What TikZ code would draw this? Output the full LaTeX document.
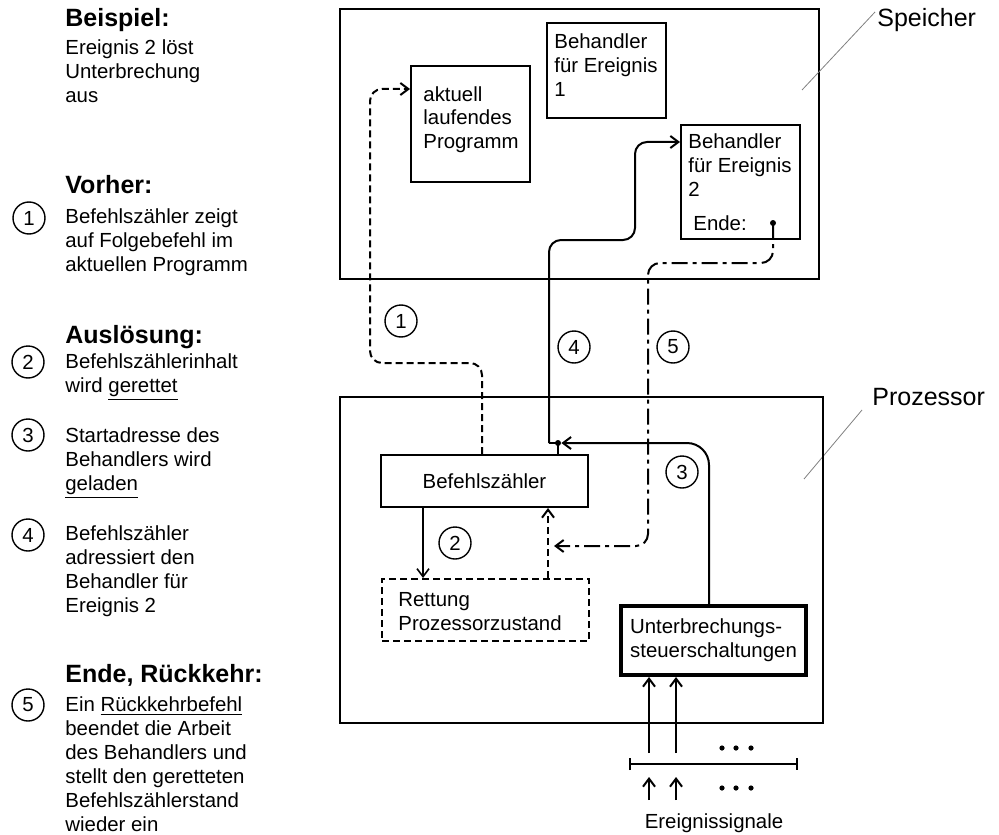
\documentclass[tikz,border=0pt]{standalone}
\usepackage{fontspec}
\setmainfont{Liberation Sans}
\usetikzlibrary{arrows.meta}
\newcommand{\fsn}{\fontsize{10.2pt}{12pt}\selectfont}
\newcommand{\fsh}{\fontsize{12.5pt}{15pt}\selectfont\bfseries}
\newcommand{\fsl}{\fontsize{12.5pt}{15pt}\selectfont}
\begin{document}
\begin{tikzpicture}[x=0.5pt,y=-0.5pt,
  every node/.style={inner sep=0pt, font=\fsn},
  ln/.style={line width=1pt},
  box/.style={draw, line width=1pt},
  tx/.style={anchor=base west, align=left},
  hd/.style={anchor=base west, font=\fsh},
  num/.style={draw, circle, line width=0.7pt, minimum size=16pt, inner sep=0pt},
  arr/.style={-{Straight Barb[length=4pt,width=6pt]}},
  dsh/.style={dash pattern=on 3.5pt off 2pt},
  dshdot/.style={dash pattern=on 8pt off 2.5pt on 2pt off 2.5pt},
  dot/.style={circle, fill, inner sep=0pt, minimum size=3pt},
  leader/.style={draw=gray, line width=0.4pt}]
\useasboundingbox (0,0) rectangle (999,834);

% ---------- left column (multi-line nodes anchored at last baseline) ----------
\node[hd] (h1) at (65,27) {Beispiel:};
\node[tx] (t1) at (65,103) {Ereignis 2 löst\\Unterbrechung\\aus};
\node[hd] (h2) at (65,193) {Vorher:};
\node[num] (n1) at (29,218) {1};
\node[tx] (t2) at (65,271) {Befehlszähler zeigt\\auf Folgebefehl im\\aktuellen Programm};
\node[hd] (h3) at (65,343) {Auslösung:};
\node[num] (n2) at (28,362) {2};
\node[tx] (t3) at (65,392) {Befehlszählerinhalt\\wird \underline{gerettet}};
\node[num] (n3) at (28,435) {3};
\node[tx] (t4) at (65,490) {Startadresse des\\Behandlers wird\\\underline{geladen}};
\node[num] (n4) at (28,535) {4};
\node[tx] (t5) at (65,612) {Befehlszähler\\adressiert den\\Behandler für\\Ereignis 2};
\node[hd] (h4) at (65,682) {Ende, Rückkehr:};
\node[num] (n5) at (28,705) {5};
\node[tx] (t6) at (65,831) {Ein \underline{Rückkehrbefehl}\\beendet die Arbeit\\des Behandlers und\\stellt den geretteten\\Befehlszählerstand\\wieder ein};

% ---------- memory ----------
\node[box, minimum width=239.5pt, minimum height=135pt] (spe) at (579.5,144) {};
\node[box, minimum width=59.5pt, minimum height=58pt] (akt) at (470.5,124) {};
\node[tx] (aktt) at (423,149) {aktuell\\laufendes\\Programm};
\node[box, minimum width=59.5pt, minimum height=47.5pt] (b1) at (606.5,70.5) {};
\node[tx] (b1t) at (554,97) {Behandler\\für Ereignis\\1};
\node[box, minimum width=59.5pt, minimum height=57pt] (b2) at (740.5,182) {};
\node[tx] (b2t) at (688,197) {Behandler\\für Ereignis\\2};
\node[tx] (ende) at (693,230) {Ende:};
\node[dot] (e5) at (773,223) {};

% labels
\node[anchor=base west, font=\fsl] (lspe) at (877,27) {Speicher};
\coordinate (ls1) at (802,90);
\coordinate (ls2) at (875,12);
\draw[leader] (ls1) -- (ls2);
\node[anchor=base west, font=\fsl] (lpro) at (872,405) {Prozessor};
\coordinate (lp1) at (804,479);
\coordinate (lp2) at (862,410);
\draw[leader] (lp1) -- (lp2);

% ---------- processor ----------
\node[box, minimum width=241.5pt, minimum height=163pt] (pro) at (581.5,560) {};
\node[box, minimum width=103.5pt, minimum height=26pt] (bz) at (484.5,481) {Befehlszähler};
\node[draw, line width=1pt, dsh, minimum width=103.5pt, minimum height=31pt] (rett) at (485.5,610) {};
\node[tx] (rettt) at (398,630) {Rettung\\Prozessorzustand};
\node[draw, line width=2pt, minimum width=92.5pt, minimum height=34.5pt, align=left] (us) at (713.5,640.5) {Unterbrechungs-\\steuerschaltungen};
\node[dot] (j) at (558,443) {};

% numbered circles in diagram
\node[num] (m1) at (401,321) {1};
\node[num] (m2) at (455,543) {2};
\node[num] (m3) at (682,472) {3};
\node[num] (m4) at (574,347) {4};
\node[num] (m5) at (673,347) {5};

% connector 1 (dashed)
\draw[ln, dsh, arr, rounded corners=6pt] (482,0 |- bz.north) -- (482,363) -- (370,363) -- (370,89) -- (akt.west |- 0,89);

% connector 4
\coordinate (c4) at (549,443);
\draw[ln] (j.center) -- (c4);
\draw[ln, arr, rounded corners=6pt] (c4) -- (549,240) -- (635,240) -- (635,142) -- (b2.west |- 0,142);
\draw[ln] (j.center) -- (j |- bz.north);

% connector 3
\draw[ln, arr, rounded corners=11pt] (709,0 |- us.north) -- (709,443) -- (j);

% connector 5 (dash-dot)
\coordinate (r5) at (554,546);
\draw[ln, dshdot, arr, rounded corners=6pt] (e5.center) -- (773,263) -- (648,263) -- (648,546) -- (r5);

% restore (dashed up) and save (2)
\draw[ln, dsh, arr] (548,0 |- rett.north) -- (548,0 |- bz.south);
\draw[line width=0.8pt, arr] (423,0 |- bz.south) -- (423,0 |- rett.north);

% event signals
\coordinate (in1) at (649,753);
\coordinate (in2) at (676,753);
\draw[ln, arr] (in1) -- (in1 |- us.south);
\draw[ln, arr] (in2) -- (in2 |- us.south);
\coordinate (busL) at (629,764);
\coordinate (busR) at (798,764);
\draw[ln, {Bar[width=6pt]}-{Bar[width=6pt]}] (busL) -- (busR);
\foreach \x in {722,736,751} {
  \fill (\x,748) circle (1.3pt);
  \fill (\x,788) circle (1.3pt);
}
\coordinate (s1a) at (649,800);
\coordinate (s1b) at (649,777);
\coordinate (s2a) at (676,800);
\coordinate (s2b) at (676,777);
\draw[ln, arr] (s1a) -- (s1b);
\draw[ln, arr] (s2a) -- (s2b);
\node[anchor=base] (es) at (714,828) {Ereignissignale};
\end{tikzpicture}
\end{document}
